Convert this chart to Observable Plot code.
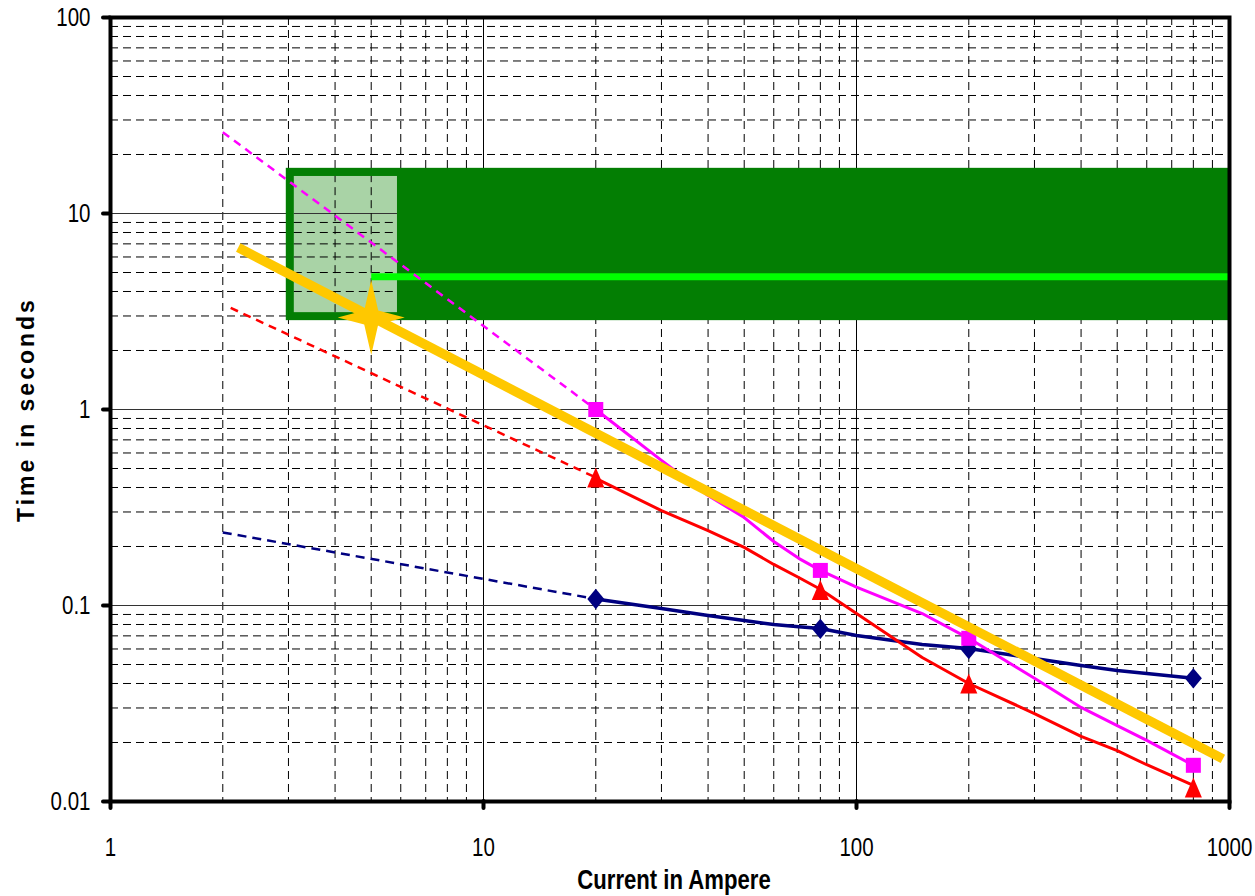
<!DOCTYPE html>
<html><head><meta charset="utf-8">
<script src="https://cdn.jsdelivr.net/npm/d3@7"></script>
<script src="https://cdn.jsdelivr.net/npm/@observablehq/plot@0.6"></script>
<style>
html,body{margin:0;padding:0;background:#fff;}
</style></head><body><div id="chart"></div>
<script>
// ---------- data ----------
const xTicks = [1, 10, 100, 1000];
const xTickLabels = ["1", "10", "100", "1000"];
const yTicks = [0.01, 0.1, 1, 10, 100];
const yTickLabels = ["0.01", "0.1", "1", "10", "100"];
const xMinor = [2,3,4,5,6,7,8,9,20,30,40,50,60,70,80,90,200,300,400,500,600,700,800,900];
const xMajor = [10, 100];
const yMinor = [0.02,0.03,0.04,0.05,0.06,0.07,0.08,0.09,0.2,0.3,0.4,0.5,0.6,0.7,0.8,0.9,2,3,4,5,6,7,8,9,20,30,40,50,60,70,80,90];
const yMajor = [0.1, 1, 10];

// measured points (markers)
const markerX = [20, 80, 200, 800];
const navyMarkers = [0.108, 0.076, 0.060, 0.0425];
const redMarkers = [0.45, 0.12, 0.04, 0.0118];
const magentaMarkers = [1.0, 0.151, 0.068, 0.0153];

// measured curves (no markers)
const curveX = [20, 30, 40, 50, 60, 70, 80, 100, 150, 200, 300, 400, 500, 600, 800];
const navyCurve = [0.108, 0.0966, 0.089, 0.0838, 0.080, 0.078, 0.0764, 0.0703, 0.0632, 0.0604, 0.0537, 0.0494, 0.0466, 0.045, 0.0425];
const redCurve = [0.445, 0.305, 0.241, 0.198, 0.162, 0.139, 0.121, 0.091, 0.0543, 0.040, 0.0281, 0.0215, 0.0182, 0.0154, 0.0121];
const magentaCurve = [1.0, 0.55, 0.364, 0.281, 0.212, 0.174, 0.151, 0.124, 0.091, 0.068, 0.0425, 0.0302, 0.0244, 0.0205, 0.0153];

// dashed extrapolations
const navyExtX = [2.0, 20], navyExtY = [0.236, 0.108];
const redExtX = [2.1, 20], redExtY = [3.3, 0.45];
const magentaExtX = [2.0, 20], magentaExtY = [26, 1.0];

// yellow reference line and star
const yellowX = [2.2, 960], yellowY = [6.7, 0.0165];
const starX = [5], starY = [2.95];

// green band
const darkBandX = [2.96, 1000], darkBandY = [2.84, 17.0];
const lightBandX = [3.11, 5.88], lightBandY = [3.12, 15.45];
const limeX = [5, 1000], limeY = [4.75, 4.75];

// ---------- helpers ----------
const rows = (xs, ys) => xs.map((x, i) => ({x, y: ys[i]}));
const rectRow = (xs, ys) => [{x1: xs[0], x2: xs[1], y1: ys[0], y2: ys[1]}];

const diamondSym = {draw(ctx, size) {
  const r = Math.sqrt(size / Math.PI);
  ctx.moveTo(0, -1.2 * r); ctx.lineTo(r, 0); ctx.lineTo(0, 1.2 * r); ctx.lineTo(-r, 0); ctx.closePath();
}};
const squareSym = {draw(ctx, size) {
  const r = Math.sqrt(size / Math.PI);
  ctx.moveTo(-r, -r); ctx.lineTo(r, -r); ctx.lineTo(r, r); ctx.lineTo(-r, r); ctx.closePath();
}};
const triSym = {draw(ctx, size) {
  const r = Math.sqrt(size / Math.PI);
  ctx.moveTo(0, -1.11 * r); ctx.lineTo(0.95 * r, 1.11 * r); ctx.lineTo(-0.95 * r, 1.11 * r); ctx.closePath();
}};
const starSym = {draw(ctx, size) {
  const r = Math.sqrt(size / Math.PI);
  const i = 0.7 * r;
  ctx.moveTo(0, -3.75 * r); ctx.lineTo(i, -i); ctx.lineTo(3.35 * r, 0); ctx.lineTo(i, i);
  ctx.lineTo(0, 3.75 * r); ctx.lineTo(-i, i); ctx.lineTo(-3.35 * r, 0); ctx.lineTo(-i, -i); ctx.closePath();
}};

const light = rectRow(lightBandX, lightBandY)[0];
const inLightY = [...yMinor, ...yMajor].filter(v => v > light.y1 && v < light.y2);
const inLightX = [...xMinor, ...xMajor].filter(v => v > light.x1 && v < light.x2);

const FONT = "'Liberation Sans Narrow', 'Arial Narrow', 'Liberation Sans', Arial, sans-serif";
const dash = "8,5";

const chart = Plot.plot({
  width: 1255,
  height: 896,
  marginLeft: 110,
  marginRight: 26,
  marginTop: 17,
  marginBottom: 95,
  style: {fontFamily: FONT, background: "white", color: "black"},
  x: {type: "log", domain: [1, 1000]},
  y: {type: "log", domain: [0.01, 100]},
  marks: [
    // grid
    Plot.ruleX(xMinor, {stroke: "#000", strokeWidth: 1, strokeDasharray: dash}),
    Plot.ruleY(yMinor, {stroke: "#000", strokeWidth: 1, strokeDasharray: dash}),
    Plot.ruleX(xMajor, {stroke: "#000", strokeWidth: 1}),
    Plot.ruleY(yMajor, {stroke: "#333", strokeWidth: 1}),
    // green band
    Plot.rect(rectRow(darkBandX, darkBandY), {x1: "x1", x2: "x2", y1: "y1", y2: "y2", fill: "#037E03"}),
    Plot.rect([light], {x1: "x1", x2: "x2", y1: "y1", y2: "y2", fill: "#A9D3A6"}),
    Plot.ruleY(inLightY.filter(v => !yMajor.includes(v)), {y: d => d, x1: light.x1, x2: light.x2, stroke: "#000", strokeWidth: 1, strokeDasharray: dash}),
    Plot.ruleY(inLightY.filter(v => yMajor.includes(v)), {y: d => d, x1: light.x1, x2: light.x2, stroke: "#333", strokeWidth: 1}),
    Plot.ruleX(inLightX, {x: d => d, y1: light.y1, y2: light.y2, stroke: "#000", strokeWidth: 1, strokeDasharray: dash}),
    Plot.line(rows(limeX, limeY), {x: "x", y: "y", stroke: "#00FF00", strokeWidth: 7, strokeLinecap: "butt"}),
    // dashed extrapolations
    Plot.line(rows(magentaExtX, magentaExtY), {x: "x", y: "y", stroke: "#FF00FF", strokeWidth: 2.5, strokeDasharray: "8,6", strokeLinecap: "butt"}),
    Plot.line(rows(redExtX, redExtY), {x: "x", y: "y", stroke: "#FF0000", strokeWidth: 2.5, strokeDasharray: "8,6", strokeLinecap: "butt"}),
    Plot.line(rows(navyExtX, navyExtY), {x: "x", y: "y", stroke: "#000080", strokeWidth: 2.5, strokeDasharray: "9,6", strokeLinecap: "butt"}),
    // curves
    Plot.line(rows(curveX, navyCurve), {x: "x", y: "y", stroke: "#000080", strokeWidth: 3.5, strokeLinejoin: "round"}),
    Plot.line(rows(curveX, redCurve), {x: "x", y: "y", stroke: "#FF0000", strokeWidth: 3, strokeLinejoin: "round"}),
    Plot.line(rows(curveX, magentaCurve), {x: "x", y: "y", stroke: "#FF00FF", strokeWidth: 3, strokeLinejoin: "round"}),
    // markers
    Plot.dot(rows(markerX, navyMarkers), {x: "x", y: "y", symbol: diamondSym, r: 8.5, fill: "#000080", stroke: "none"}),
    Plot.dot(rows(markerX, redMarkers), {x: "x", y: "y", symbol: triSym, r: 9, fill: "#FF0000", stroke: "none"}),
    Plot.dot(rows(markerX, magentaMarkers), {x: "x", y: "y", symbol: squareSym, r: 7.5, fill: "#FF00FF", stroke: "none"}),
    // yellow line and star
    Plot.line(rows(yellowX, yellowY), {x: "x", y: "y", stroke: "#FFC800", strokeWidth: 9.5, strokeLinecap: "butt"}),
    Plot.dot(rows(starX, starY), {x: "x", y: "y", symbol: starSym, r: 10, fill: "#FFC800", stroke: "none"}),
    // frame
    Plot.frame({stroke: "#000", strokeWidth: 4}),
    // axes
    Plot.axisY({ticks: yTicks, tickFormat: d => yTickLabels[yTicks.indexOf(d)], tickSize: 7, tickPadding: 13,
      strokeWidth: 4, strokeLinecap: "round", fontSize: 25, label: null}),
    Plot.axisX({ticks: xTicks, tickFormat: d => xTickLabels[xTicks.indexOf(d)], tickSize: 7, tickPadding: 30,
      strokeWidth: 4, strokeLinecap: "round", fontSize: 25, label: null}),
    // axis titles
    Plot.text(["Time in seconds"], {text: d => d, frameAnchor: "left", textAnchor: "middle", dx: -84, rotate: -90, fontSize: 23, fontWeight: "bold", fontFamily: "'Liberation Sans', Arial, sans-serif"}),
    Plot.text(["Current in Ampere"], {text: d => d, frameAnchor: "bottom", textAnchor: "middle", dx: 4, dy: 87, fontSize: 27, fontWeight: "bold"})
  ]
});

document.getElementById("chart").appendChild(chart);

// letter spacing for the vertical title
d3.select(chart).selectAll("text").filter(function() { return this.textContent === "Time in seconds"; })
  .style("letter-spacing", "3px");

// emulate a narrow typeface on tick labels and the x title (scale about each text's anchor)
const narrowTexts = new Set([...xTickLabels, ...yTickLabels, "Current in Ampere"]);
d3.select(chart).selectAll("text").each(function() {
  const el = this;
  if (!narrowTexts.has(el.textContent)) return;
  const b = el.getBBox();
  const anchor = getComputedStyle(el).textAnchor || el.getAttribute("text-anchor") || "start";
  const ax = anchor === "end" ? b.x + b.width : anchor === "middle" ? b.x + b.width / 2 : b.x;
  const t = el.getAttribute("transform") || "";
  el.setAttribute("transform", `${t} translate(${ax},0) scale(0.82,1) translate(${-ax},0)`.trim());
});
</script>
</body></html>
